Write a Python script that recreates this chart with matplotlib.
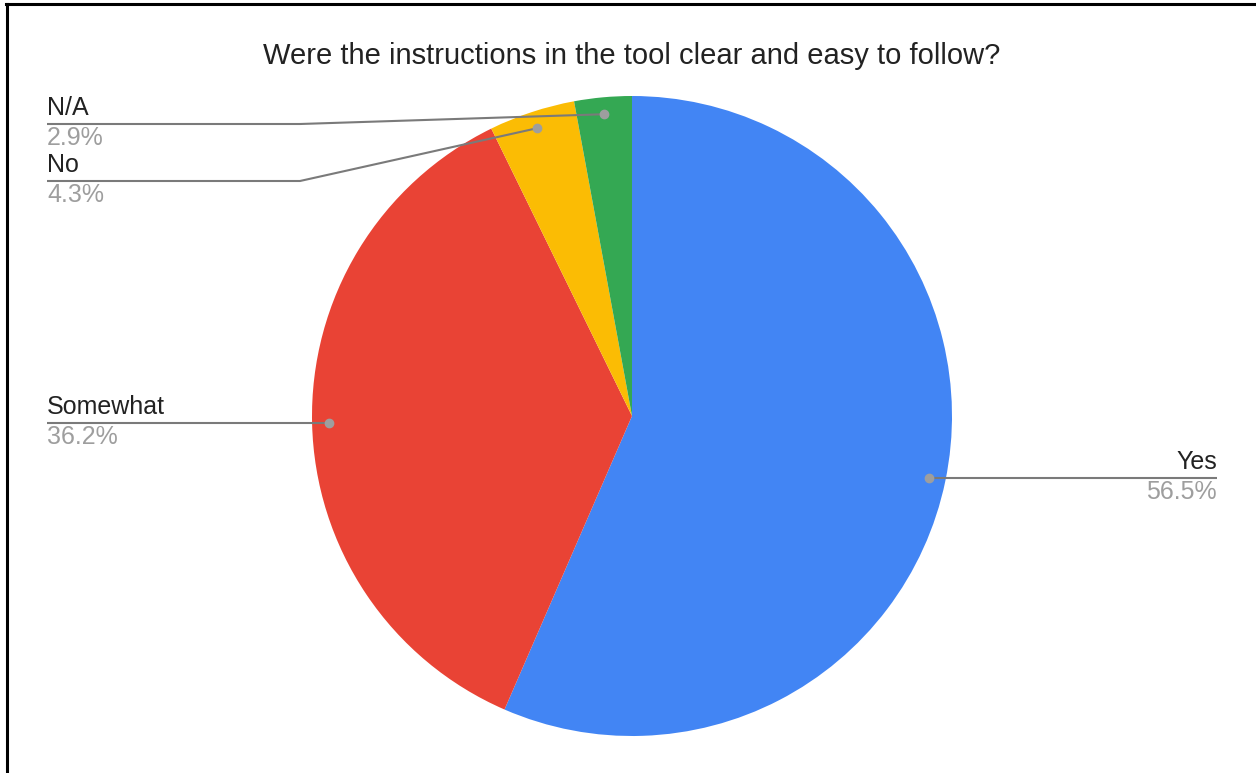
import numpy as np
import matplotlib.pyplot as plt
from matplotlib.lines import Line2D

# survey answers (counts out of 69 responses)
answers = ["Yes", "Somewhat", "No", "N/A"]
counts = [39, 25, 3, 2]
colors = ["#4285F4", "#E94335", "#FBBC04", "#34A853"]
title = "Were the instructions in the tool clear and easy to follow?"

W, H = 1256, 773
fig = plt.figure(figsize=(W / 100, H / 100), dpi=100)
ax = fig.add_axes([0, 0, 1, 1])

# work in pixel-like units, y pointing up
cx, cy, r = 632, H - 416, 320
wedges, _ = ax.pie(counts, colors=colors, startangle=90, counterclock=False,
                   center=(cx, cy), radius=r,
                   wedgeprops=dict(linewidth=0))
ax.set_xlim(0, W)
ax.set_ylim(0, H)
ax.set_aspect("equal")
ax.axis("off")

total = sum(counts)
pcts = [c / total * 100 for c in counts]

# label rows: (side, text x, line y or None for a straight run, elbow x)
layout = {
    "Yes": ("right", 1217, None, None),
    "Somewhat": ("left", 47, None, None),
    "No": ("left", 47, H - 181, 300),
    "N/A": ("left", 47, H - 124, 300),
}

line_col = "#7a7a7a"
dot_col = "#9e9e9e"
for w, name, p in zip(wedges, answers, pcts):
    mid = np.deg2rad((w.theta1 + w.theta2) / 2)
    dx = cx + 0.947 * r * np.cos(mid)
    dy = cy + 0.947 * r * np.sin(mid)
    side, tx, ly, ex = layout[name]
    if ly is None:
        xs, ys = [dx, tx], [dy, dy]
        ly = dy
    else:
        xs, ys = [dx, ex, tx], [dy, ly, ly]
    ax.plot(xs, ys, color=line_col, lw=1.5, solid_capstyle="butt", zorder=3)
    ax.plot([dx], [dy], "o", color=dot_col, ms=6, zorder=4)
    ha = "right" if side == "right" else "left"
    ax.text(tx, ly + 4, name, ha=ha, va="bottom", fontsize=18,
            color="#222222", family="Liberation Sans")
    ax.text(tx, ly - 2, f"{p:.1f}%", ha=ha, va="top", fontsize=18,
            color="#9e9e9e", family="Liberation Sans")

ax.text(cx, H - 56, title, ha="center", va="center", fontsize=21,
        color="#222222", family="Liberation Sans")

# frame edges on the left and top
fig.add_artist(Line2D([7 / W, 7 / W], [0, 1 - 4 / H], color="black", lw=2.2,
                      transform=fig.transFigure))
fig.add_artist(Line2D([6 / W, 1], [1 - 4 / H, 1 - 4 / H], color="black", lw=2.2,
                      transform=fig.transFigure))

fig.savefig("out.png", dpi=100)
